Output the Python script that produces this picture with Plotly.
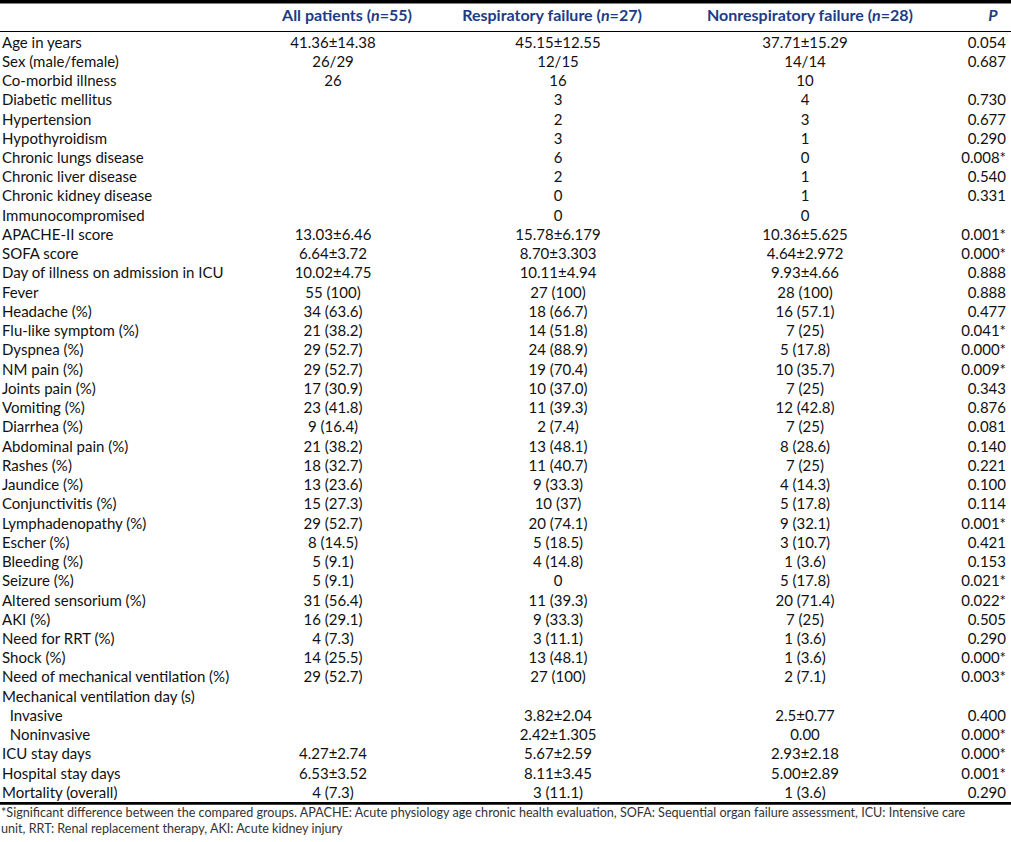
import plotly.graph_objects as go

headers = ["", "All patients (<i>n</i>=55)", "Respiratory failure (<i>n</i>=27)",
           "Nonrespiratory failure (<i>n</i>=28)", "<i>P</i>"]

labels = ["Age in years", "Sex (male/female)", "Co-morbid illness", "Diabetic mellitus",
          "Hypertension", "Hypothyroidism", "Chronic lungs disease", "Chronic liver disease",
          "Chronic kidney disease", "Immunocompromised", "APACHE-II score", "SOFA score",
          "Day of illness on admission in ICU", "Fever", "Headache (%)", "Flu-like symptom (%)",
          "Dyspnea (%)", "NM pain (%)", "Joints pain (%)", "Vomiting (%)", "Diarrhea (%)",
          "Abdominal pain (%)", "Rashes (%)", "Jaundice (%)", "Conjunctivitis (%)",
          "Lymphadenopathy (%)", "Escher (%)", "Bleeding (%)", "Seizure (%)",
          "Altered sensorium (%)", "AKI (%)", "Need for RRT (%)", "Shock (%)",
          "Need of mechanical ventilation (%)", "Mechanical ventilation day (s)",
          "\u00a0\u00a0Invasive", "\u00a0\u00a0Noninvasive", "ICU stay days",
          "Hospital stay days", "Mortality (overall)"]

all_patients = ["41.36±14.38", "26/29", "26", "", "", "", "", "", "", "",
                "13.03±6.46", "6.64±3.72", "10.02±4.75", "55 (100)", "34 (63.6)",
                "21 (38.2)", "29 (52.7)", "29 (52.7)", "17 (30.9)", "23 (41.8)",
                "9 (16.4)", "21 (38.2)", "18 (32.7)", "13 (23.6)", "15 (27.3)",
                "29 (52.7)", "8 (14.5)", "5 (9.1)", "5 (9.1)", "31 (56.4)", "16 (29.1)",
                "4 (7.3)", "14 (25.5)", "29 (52.7)", "", "", "", "4.27±2.74",
                "6.53±3.52", "4 (7.3)"]

respiratory = ["45.15±12.55", "12/15", "16", "3", "2", "3", "6", "2", "0", "0",
               "15.78±6.179", "8.70±3.303", "10.11±4.94", "27 (100)", "18 (66.7)",
               "14 (51.8)", "24 (88.9)", "19 (70.4)", "10 (37.0)", "11 (39.3)",
               "2 (7.4)", "13 (48.1)", "11 (40.7)", "9 (33.3)", "10 (37)",
               "20 (74.1)", "5 (18.5)", "4 (14.8)", "0", "11 (39.3)", "9 (33.3)",
               "3 (11.1)", "13 (48.1)", "27 (100)", "", "3.82±2.04", "2.42±1.305",
               "5.67±2.59", "8.11±3.45", "3 (11.1)"]

nonrespiratory = ["37.71±15.29", "14/14", "10", "4", "3", "1", "0", "1", "1", "0",
                  "10.36±5.625", "4.64±2.972", "9.93±4.66", "28 (100)", "16 (57.1)",
                  "7 (25)", "5 (17.8)", "10 (35.7)", "7 (25)", "12 (42.8)",
                  "7 (25)", "8 (28.6)", "7 (25)", "4 (14.3)", "5 (17.8)",
                  "9 (32.1)", "3 (10.7)", "1 (3.6)", "5 (17.8)", "20 (71.4)", "7 (25)",
                  "1 (3.6)", "1 (3.6)", "2 (7.1)", "", "2.5±0.77", "0.00",
                  "2.93±2.18", "5.00±2.89", "1 (3.6)"]

p_values = ["0.054", "0.687", "", "0.730", "0.677", "0.290", "0.008*", "0.540", "0.331", "",
            "0.001*", "0.000*", "0.888", "0.888", "0.477", "0.041*", "0.000*", "0.009*",
            "0.343", "0.876", "0.081", "0.140", "0.221", "0.100", "0.114", "0.001*",
            "0.421", "0.153", "0.021*", "0.022*", "0.505", "0.290", "0.000*", "0.003*",
            "", "0.400", "0.000*", "0.000*", "0.001*", "0.290"]

footnote = ["*Significant difference between the compared groups. APACHE: Acute physiology age chronic health evaluation, SOFA: Sequential organ failure assessment, ICU: Intensive care",
            "unit, RRT: Renal replacement therapy, AKI: Acute kidney injury"]

# ---- layout constants (pixel space) ----
W, H = 1011, 842
ROW0, ROWH = 43.8, 19.24
HEAD_Y = 17
FONT = "Lato, 'Open Sans', sans-serif"
FS = 15
TXT = "#111111"
HEAD_COL = "#1d3c84"

rows_y = [ROW0 + i * ROWH for i in range(len(labels))]

fig = go.Figure()

def col(x, texts, pos):
    fig.add_trace(go.Scatter(
        x=[x] * len(texts), y=rows_y, text=texts, mode="text",
        textposition=pos, textfont=dict(family=FONT, size=FS, color=TXT),
        hoverinfo="skip", showlegend=False))

col(2, labels, "middle right")
col(333, all_patients, "middle center")
col(558, respiratory, "middle center")
col(805, nonrespiratory, "middle center")
col(1006, p_values, "middle left")

# header
head_x = [347, 552, 810, 993]
fig.add_trace(go.Scatter(
    x=head_x, y=[HEAD_Y] * 4, text=["<b>%s</b>" % h for h in headers[1:]],
    mode="text", textposition="middle center",
    textfont=dict(family=FONT, size=16, color=HEAD_COL),
    hoverinfo="skip", showlegend=False))

# footnote
fig.add_trace(go.Scatter(
    x=[1, 1], y=[814, 830], text=footnote, mode="text", textposition="middle right",
    textfont=dict(family=FONT, size=12.6, color="#333333"),
    hoverinfo="skip", showlegend=False))

shapes = [
    dict(type="rect", x0=0, x1=W, y0=0, y1=3.4, fillcolor="black", line_width=0),
    dict(type="line", x0=0, x1=W, y0=31.5, y1=31.5, line=dict(color="black", width=1)),
    dict(type="rect", x0=0, x1=W, y0=802, y1=804.8, fillcolor="black", line_width=0),
]

fig.update_layout(
    width=W, height=H, margin=dict(l=0, r=0, t=0, b=0),
    paper_bgcolor="white", plot_bgcolor="white",
    xaxis=dict(range=[0, W], visible=False, fixedrange=True),
    yaxis=dict(range=[H, 0], visible=False, fixedrange=True),
    shapes=shapes,
)

fig.write_html("out.html", config={"displayModeBar": False},
               post_script="document.body.style.margin='0';document.body.style.overflow='hidden';")
